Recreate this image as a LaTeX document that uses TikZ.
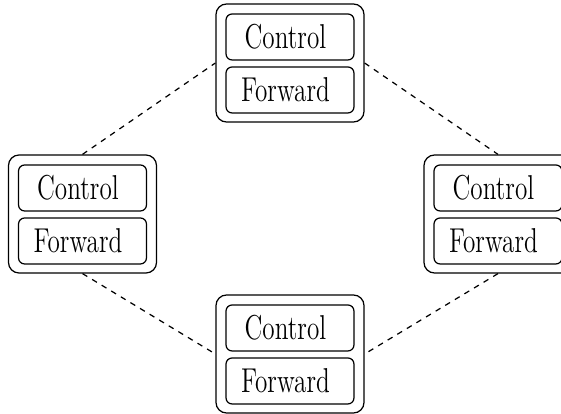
\documentclass[tikz,border=0pt]{standalone}
\usepackage{graphicx}
\newcommand{\boxlabel}[1]{\kern-5.2pt\scalebox{1}[1.37]{#1}}
\begin{document}
\begin{tikzpicture}[x=0.5714pt, y=-0.5714pt, line width=0.7pt,
  outerbox/.style={draw, rounded corners=6pt, minimum width=148*0.5714pt, minimum height=118*0.5714pt, inner sep=0pt},
  innerbox/.style={draw, rounded corners=3.5pt, minimum width=128*0.5714pt, minimum height=46*0.5714pt, inner sep=0pt, font=\Large},
  link/.style={dash pattern=on 3.2pt off 3.2pt}]
\useasboundingbox (0,0) rectangle (561,414);

% router at the top
\node[outerbox] (top) at (290,63) {};
\node[innerbox] (topc) at (290,37) {\boxlabel{Control}};
\node[innerbox] (topf) at (290,90) {\boxlabel{Forward}};

% router on the left
\node[outerbox] (left) at (82.5,214) {};
\node[innerbox] (leftc) at (82.5,188) {\boxlabel{Control}};
\node[innerbox] (leftf) at (82.5,241) {\boxlabel{Forward}};

% router on the right
\node[outerbox] (right) at (498,214) {};
\node[innerbox] (rightc) at (498,188) {\boxlabel{Control}};
\node[innerbox] (rightf) at (498,241) {\boxlabel{Forward}};

% router at the bottom
\node[outerbox] (bottom) at (290,354) {};
\node[innerbox] (bottomc) at (290,328) {\boxlabel{Control}};
\node[innerbox] (bottomf) at (290,381) {\boxlabel{Forward}};

% links between the routers
\draw[link] (left.north) -- (top.west);
\draw[link] (top.east) -- (right.north);
\draw[link] (left.south) -- (bottom.west);
\draw[link] (right.south) -- (bottom.east);
\end{tikzpicture}
\end{document}
